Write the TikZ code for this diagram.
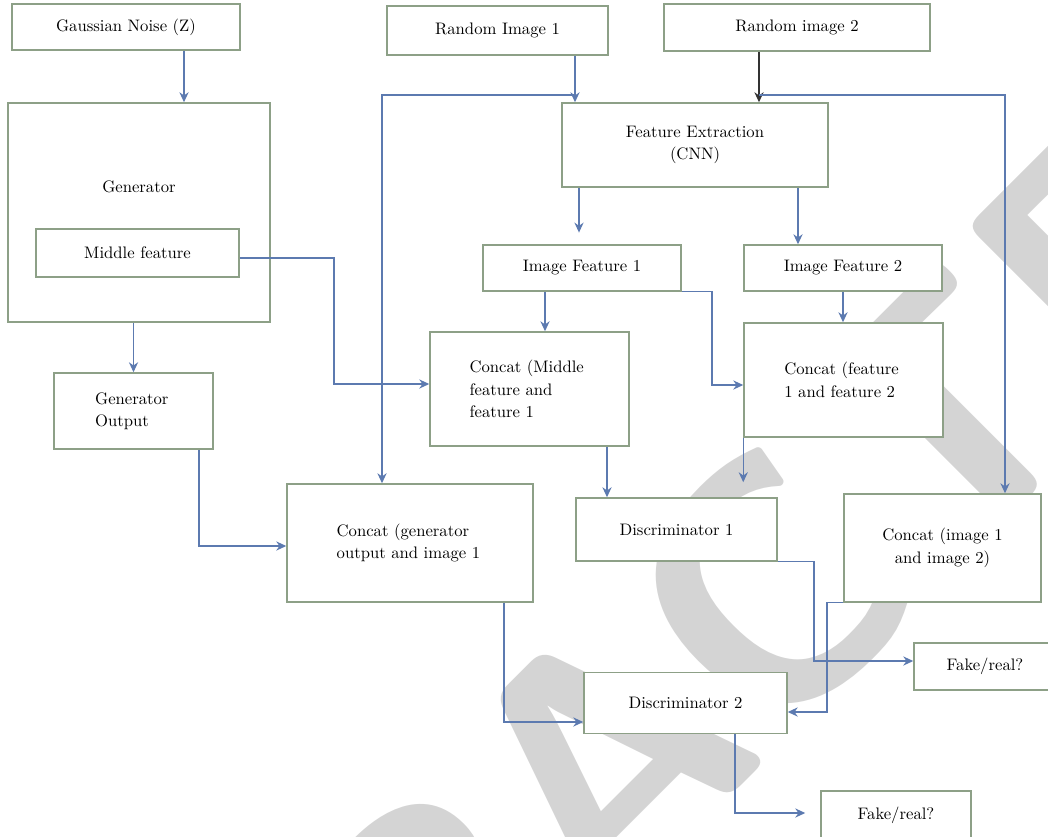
\documentclass[tikz,border=0pt]{standalone}
\usetikzlibrary{arrows.meta}

\definecolor{boxgreen}{RGB}{141,160,135}
\definecolor{flowblue}{RGB}{92,122,176}
\definecolor{wmgray}{RGB}{212,212,212}

\tikzset{
    box/.style={draw=boxgreen, line width=0.9pt, fill=white, inner sep=0pt,
        font=\fontsize{10}{13.5}\selectfont},
    sz/.style 2 args={minimum width=#1*0.6pt, minimum height=#2*0.6pt},
    flow/.style={draw=flowblue, line width=0.75pt, -{Stealth[length=6pt,width=5.5pt]}},
    flowdark/.style={flow, draw=black!80},
}

\begin{document}
\begin{tikzpicture}[x=0.6pt, y=-0.6pt]
        \useasboundingbox (0,0) rectangle (1048,837);
        \clip (0,0) rectangle (1048,837);

        % marca d'agua
        \node[text=wmgray, rotate=45, inner sep=0pt,
            font=\sffamily\bfseries\fontsize{204}{204}\selectfont] (wm) at (610,750) {RETRACTED};

        % caixas de uma linha
        \node[box, sz={262}{219}] (gen) at (139,212.5) {};
        \node[font=\fontsize{10}{13.5}\selectfont] (genlbl) at (139,187) {Generator};
        \foreach \name/\pos/\w/\h/\txt in {
            gauss/{126,27}/228/46/{Gaussian Noise (Z)},
            rimg1/{497.5,30.5}/221/49/{Random Image 1},
            rimg2/{797,27.5}/266/47/{Random image 2},
            mid/{137.5,253}/203/48/{Middle feature},
            if1/{582,268}/198/46/{Image Feature 1},
            if2/{843,268}/198/46/{Image Feature 2},
            d1/{676.5,529.5}/201/63/{Discriminator 1},
            d2/{685.5,703}/203/61/{Discriminator 2},
            fr1/{985,666.5}/142/47/{Fake/real?},
            fr2/{896,815}/150/48/{Fake/real?}
        }{
            \node[box, sz={\w}{\h}] (\name) at (\pos) {\txt};
        }

        % caixas de duas ou tres linhas
        \node[box, sz={266}{84}, align=center] (fe) at (695,145) {Feature Extraction\\(CNN)};
        \node[box, sz={199}{114}, align=left, text width=72pt] (cmid) at (529.5,389)
            {Concat (Middle\\feature and\\feature 1};
        \node[box, sz={199}{114}, align=left, text width=71pt] (cf12) at (843.5,380)
            {Concat (feature\\1 and feature 2};
        \node[box, sz={159}{76}, align=left, text width=46pt] (genout) at (133.5,411)
            {Generator\\Output};
        \node[box, sz={246}{118}, align=left, text width=88pt] (ccgen) at (410,543)
            {Concat (generator\\output and image 1};
        \node[box, sz={197}{108}, align=center] (cimg) at (942.5,548)
            {Concat (image 1\\and image 2)};

        % pontos de dobra
        \coordinate (gz) at (184,0);
        \coordinate (r1) at (575,95);
        \coordinate (c1) at (382,95);
        \coordinate (r2) at (759,95);
        \coordinate (c2) at (1005,95);
        \coordinate (f1) at (579,0);
        \coordinate (f2) at (798,0);
        \coordinate (mk) at (334,258);
        \coordinate (mj) at (334,384);
        \coordinate (go) at (199,546);
        \coordinate (k1) at (712,385);
        \coordinate (k2) at (814,661);
        \coordinate (k3) at (504,722);
        \coordinate (k4) at (827,712);
        \coordinate (k5) at (735,813);

        % gerador
        \draw[flow] (gauss.south -| gz) -- (gen.north -| gz);
        \draw[flow] (gen.south -| genout.north) -- (genout.north);
        \draw[flow] (mid.east |- mk) -- (mk) -- (mj) -- (cmid.west |- mj);
        \draw[flow] (genout.south -| go) -- (go) -- (ccgen.west |- go);

        % imagens
        \draw[flow] (rimg1.south -| r1) -- (fe.north -| r1);
        \draw[flow] (r1) -- (c1) -- (ccgen.north -| c1);
        \draw[flowdark] (rimg2.south -| r2) -- (fe.north -| r2);
        \draw[flow] (r2) -- (c2) -- (cimg.north -| c2);

        % extracao de caracteristicas
        \draw[flow, shorten >=7pt] (fe.south -| f1) -- (if1.north -| f1);
        \draw[flow] (fe.south -| f2) -- (if2.north -| f2);
        \draw[flow] (if1.south -| 545,0) -- (cmid.north -| 545,0);
        \draw[flow] (if1.south east) -| (k1) -- (cf12.west |- k1);
        \draw[flow] (if2.south) -- (cf12.north -| if2.south);

        % discriminadores
        \draw[flow] (cmid.south -| 607,0) -- (d1.north -| 607,0);
        \draw[flow, shorten >=9pt] (cf12.south west) -- (cf12.south west |- d1.north);
        \draw[flow] (d1.south east) -| (k2) -- (fr1.west |- k2);
        \draw[flow] (ccgen.south -| k3) -- (k3) -- (d2.west |- k3);
        \draw[flow] (cimg.south west) -| (k4) -- (d2.east |- k4);
        \draw[flow, shorten >=9pt] (d2.south -| k5) -- (k5) -- (fr2.west |- k5);
    \end{tikzpicture}
\end{document}
